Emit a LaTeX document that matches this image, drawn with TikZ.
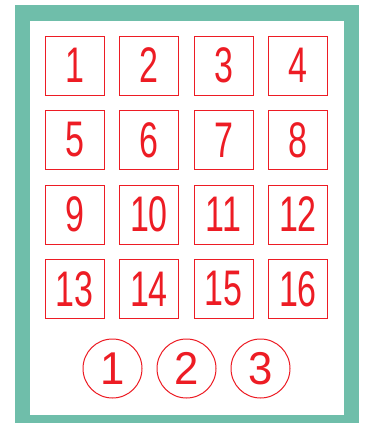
\documentclass[tikz,border=0pt]{standalone}
\usepackage{fontspec}
\newfontfamily\condfont[FakeStretch=0.68]{Liberation Sans}
\newfontfamily\circfont[FakeStretch=0.95]{Liberation Sans}
\definecolor{framegreen}{RGB}{111,190,170}
\definecolor{numred}{RGB}{237,28,36}
\begin{document}
\begin{tikzpicture}[x=1pt,y=-1pt,
  numbox/.style={draw=numred,line width=1pt,minimum size=59pt,inner sep=0pt,
    text=numred,font=\condfont\fontsize{50}{50}\selectfont},
  numcirc/.style={circle,draw=numred,line width=1pt,minimum size=59pt,inner sep=0pt,
    text=numred,font=\circfont\fontsize{46}{46}\selectfont}]
\useasboundingbox (0,0) rectangle (366,423);
\fill[framegreen] (15,5) rectangle (359,423);
\fill[white] (30,21) rectangle (344,415);
\foreach \r/\y in {0/65.5,1/140,2/214.5,3/289}{
  \foreach \c/\x in {0/74.5,1/149,2/223.5,3/298}{
    \pgfmathtruncatemacro{\n}{\r*4+\c+1}
    \node[numbox] (b\n) at (\x,\y) {\n};
  }
}
\node[numcirc] (c1) at (112.5,368.5) {1};
\node[numcirc] (c2) at (186.5,368.5) {2};
\node[numcirc] (c3) at (260.5,368.5) {3};
\end{tikzpicture}
\end{document}
